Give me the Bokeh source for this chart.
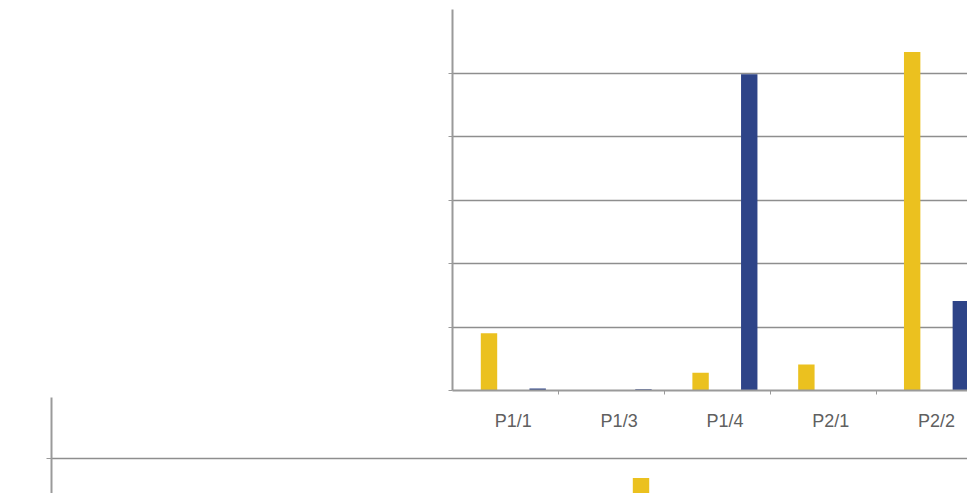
from bokeh.plotting import figure
from bokeh.layouts import column
from bokeh.models import ColumnDataSource, FixedTicker, CustomJSTickFormatter, Range1d
from bokeh.transform import dodge
from bokeh.embed import file_html
from bokeh.resources import INLINE

# ---- data ----
categories = ["P1/1", "P1/3", "P1/4", "P2/1", "P2/2"]
yellow_values = [0.90, 0.0, 0.28, 0.41, 5.33]
blue_values = [0.03, 0.02, 4.98, 0.0, 1.41]

# lower (cropped) chart: only one bar reaches into view
lower_yellow_values = [0, 0, 0, 0, 0, 4.68, 0, 0]
lower_blue_values = [0, 0, 0, 0, 0, 0, 0, 0]

YELLOW = "#EBC11F"
BLUE = "#2E4488"
AXIS = "#9a9a9a"
GRID = "#8e8e8e"
LABEL = "#606060"

idx = list(range(len(categories)))
src = ColumnDataSource(dict(x=idx, yellow=yellow_values, blue=blue_values))

top = figure(width=967, height=435, output_backend="svg", toolbar_location=None,
             x_range=Range1d(-0.575, 4.293), y_range=Range1d(0, 6),
             min_border_left=452, min_border_right=0, min_border_top=9,
             min_border_bottom=45)
top.outline_line_color = None
top.vbar(x=dodge("x", -0.23), top="yellow", width=0.155, source=src,
         fill_color=YELLOW, line_color=None)
top.vbar(x=dodge("x", 0.23), top="blue", width=0.155, source=src,
         fill_color=BLUE, line_color=None)

xa = top.xaxis[0]
xa.ticker = FixedTicker(ticks=idx, minor_ticks=[i + 0.43 for i in idx])
xa.major_label_overrides = {i: c for i, c in enumerate(categories)}
xa.major_tick_out = 0
xa.major_tick_in = 0
xa.minor_tick_out = 4
xa.minor_tick_in = 0
xa.minor_tick_line_color = AXIS
xa.axis_line_color = AXIS
xa.axis_line_width = 2
xa.major_label_text_font = "Liberation Sans"
xa.major_label_text_font_size = "18px"
xa.major_label_text_color = LABEL
xa.major_label_standoff = 16

ya = top.yaxis[0]
ya.ticker = FixedTicker(ticks=[0, 1, 2, 3, 4, 5])
ya.formatter = CustomJSTickFormatter(code="return ''")
ya.major_tick_out = 4
ya.major_tick_in = 0
ya.minor_tick_out = 0
ya.major_tick_line_color = AXIS
ya.axis_line_color = AXIS
ya.axis_line_width = 2

top.xgrid.visible = False
top.ygrid.ticker = FixedTicker(ticks=[1, 2, 3, 4, 5])
top.ygrid.grid_line_color = GRID
top.ygrid.grid_line_width = 1.5

# ---- lower chart (only its top strip is visible) ----
lidx = list(range(len(lower_yellow_values)))
lsrc = ColumnDataSource(dict(x=lidx, yellow=lower_yellow_values, blue=lower_blue_values))

bot = figure(width=967, height=96, output_backend="svg", toolbar_location=None,
             x_range=Range1d(-0.802, 7.856), y_range=Range1d(4.426, 6),
             x_axis_location=None,
             min_border_left=51, min_border_right=0, min_border_top=0,
             min_border_bottom=0,
             background_fill_color=None, border_fill_color=None)
bot.outline_line_color = None
bot.vbar(x=dodge("x", -0.23), top="yellow", width=0.155, source=lsrc,
         fill_color=YELLOW, line_color=None)
bot.vbar(x=dodge("x", 0.23), top="blue", width=0.155, source=lsrc,
         fill_color=BLUE, line_color=None)
by = bot.yaxis[0]
by.ticker = FixedTicker(ticks=[5])
by.formatter = CustomJSTickFormatter(code="return ''")
by.major_tick_out = 5
by.major_tick_in = 0
by.minor_tick_out = 0
by.major_tick_line_color = AXIS
by.axis_line_color = AXIS
by.axis_line_width = 2
bot.xgrid.visible = False
bot.ygrid.ticker = FixedTicker(ticks=[5])
bot.ygrid.grid_line_color = GRID
bot.ygrid.grid_line_width = 1.5

lower = column(bot, margin=(-38, 0, 0, 0))
p = column(top, lower, spacing=0)
open("out.html", "w").write(file_html(p, INLINE))
